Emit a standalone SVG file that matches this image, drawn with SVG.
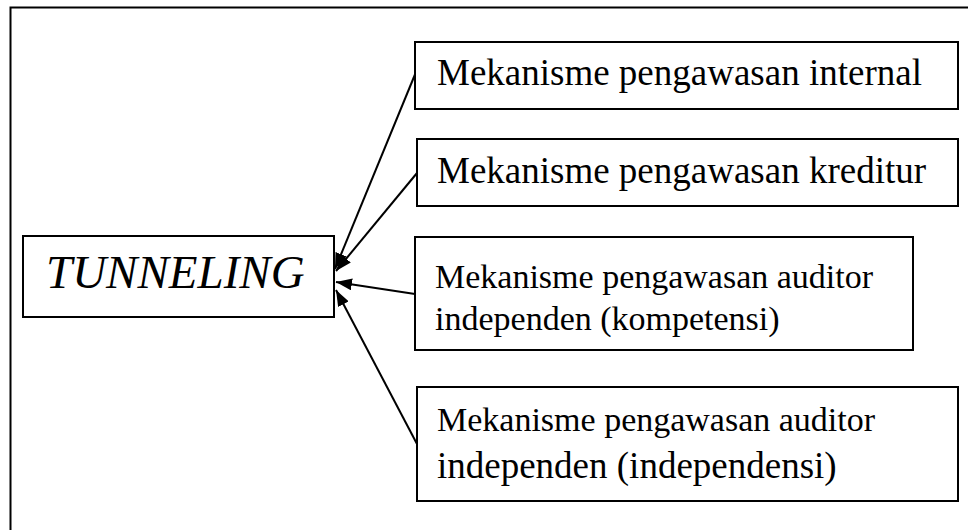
<svg xmlns="http://www.w3.org/2000/svg" width="968" height="530" viewBox="0 0 968 530">
<defs>
<style>
.box{fill:#fff;stroke:#000;stroke-width:2}
.t{font-family:"Liberation Serif","Times New Roman",serif;font-size:37px;fill:#000}
.s{font-size:34px}
.ti{font-family:"Liberation Serif","Times New Roman",serif;font-size:47px;font-style:italic;fill:#000}
.c{stroke:#000;stroke-width:2;fill:none;marker-end:url(#ah)}
</style>
<marker id="ah" viewBox="0 0 16 12" refX="16" refY="6" markerWidth="16" markerHeight="12" orient="auto" markerUnits="userSpaceOnUse">
<path d="M0,0 L16,6 L0,12 z" fill="#000"/>
</marker>
</defs>
<rect width="968" height="530" fill="#fff"/>
<path d="M10.5,530 V7.5 H968" fill="none" stroke="#000" stroke-width="2"/>
<g id="connectors">
<line class="c" x1="416" y1="72" x2="335" y2="269"/>
<line class="c" x1="417" y1="173" x2="336" y2="271"/>
<line class="c" x1="415" y1="294" x2="336" y2="282"/>
<line class="c" x1="417" y1="444" x2="336" y2="290"/>
</g>
<g id="tunneling">
<rect class="box" x="23" y="236" width="311" height="81"/>
<text class="ti" x="46" y="288">TUNNELING</text>
</g>
<g id="internal">
<rect class="box" x="415" y="42" width="543" height="67"/>
<text class="t" x="437" y="85">Mekanisme pengawasan internal</text>
</g>
<g id="kreditur">
<rect class="box" x="417" y="139" width="541" height="67"/>
<text class="t" x="437" y="183">Mekanisme pengawasan kreditur</text>
</g>
<g id="kompetensi">
<rect class="box" x="415" y="237" width="498" height="113"/>
<text class="t s" x="435" y="288">Mekanisme pengawasan auditor</text>
<text class="t s" x="435" y="330">independen (kompetensi)</text>
</g>
<g id="independensi">
<rect class="box" x="417" y="387" width="541" height="114"/>
<text class="t s" x="437" y="431">Mekanisme pengawasan auditor</text>
<text class="t" x="437" y="478">independen (independensi)</text>
</g>
</svg>
